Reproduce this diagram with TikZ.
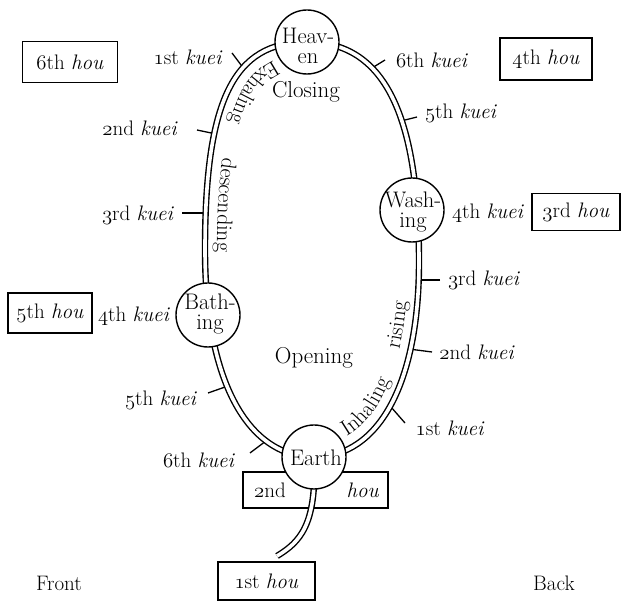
\documentclass[tikz,border=0pt]{standalone}
\usetikzlibrary{decorations.text}
\providecommand\legacyoldstylenums{\oldstylenums}
\newcommand\os[1]{\legacyoldstylenums{#1}}
\newcommand\pathfont{\fontsize{22}{24}\selectfont}
\begin{document}
\begin{tikzpicture}[x=1pt,y=1pt,
  lab/.style={font=\fontsize{21}{22}\selectfont, inner sep=0pt},
  big/.style={font=\fontsize{23}{24}\selectfont, inner sep=0pt},
  ctext/.style={font=\fontsize{22.5}{20}\selectfont, inner sep=0pt, align=center},
  houbox/.style={draw, line width=1.6pt, font=\fontsize{21}{22}\selectfont, inner sep=0pt},
  dbl/.style={double, double distance=3.6pt, line width=1.4pt},
  tickline/.style={line width=1.3pt},
  circ/.style={circle, draw, fill=white, line width=1.4pt, minimum size=64pt, inner sep=0pt}]
\useasboundingbox (0,0) rectangle (622,-601);

% box behind Earth
\node[houbox, minimum width=145pt, minimum height=36pt] (hou2) at (315.5,-490) {};

% tick marks
\coordinate (a1L) at (232,-53);  \coordinate (b1L) at (244,-69);
\coordinate (a2L) at (197,-130); \coordinate (b2L) at (216,-134);
\coordinate (a3L) at (182,-213); \coordinate (b3L) at (206,-213);
\coordinate (a5L) at (208,-393); \coordinate (b5L) at (228,-386);
\coordinate (a6L) at (250,-453); \coordinate (b6L) at (266,-441);
\coordinate (a6R) at (385,-60);  \coordinate (b6R) at (372,-68);
\coordinate (a5R) at (417,-117); \coordinate (b5R) at (401,-121);
\coordinate (a3R) at (440,-280); \coordinate (b3R) at (419,-280);
\coordinate (a2R) at (432,-352); \coordinate (b2R) at (409,-349);
\coordinate (a1R) at (405,-423); \coordinate (b1R) at (391,-407);
\foreach \k in {1L,2L,3L,5L,6L,6R,5R,3R,2R,1R}
  \draw[tickline] (a\k) -- (b\k);

% the loop and the tail
\coordinate (Ec) at (314,-457);
\coordinate (tailend) at (277,-556);
\draw[dbl] (Ec) .. controls (317,-525) and (300,-542) .. (tailend);
\draw[dbl] (307,-42) .. controls (383.2,-42) and (419,-112.4) .. (419,-262)
  .. controls (419,-383) and (379,-457) .. (314,-457)
  .. controls (246.4,-457) and (205,-378) .. (205,-250)
  .. controls (205,-100) and (233.6,-42) .. (307,-42) -- cycle;

% circles
\node[circ] (H) at (307,-42) {};
\node[circ] (W) at (412,-210) {};
\node[circ] (B) at (208,-315) {};
\node[circ] (E) at (Ec) {};
\node[ctext] (Ht) at (308,-46) {Heav-\\en};
\node[ctext] (Wt) at (413,-212) {Wash-\\ing};
\node[ctext] (Bt) at (210,-314) {Bath-\\ing};
\node[ctext] (Et) at (316,-458) {Earth};

% texts along the loop
\path[decorate, decoration={text along path, text align={left indent=34pt},
   text={|\pathfont|Exhaling}}]
  (307,-54) .. controls (243,-54) and (217,-109.6) .. (217,-250)
  .. controls (217,-370) and (254.5,-445) .. (314,-445);
\path[decorate, decoration={text along path, text align={left indent=148pt},
   text={|\pathfont|descending}}]
  (307,-54) .. controls (243,-54) and (217,-109.6) .. (217,-250)
  .. controls (217,-370) and (254.5,-445) .. (314,-445);
\path[decorate, decoration={text along path, text align={left indent=34pt},
   text={|\pathfont|Inhaling}}]
  (314,-445) .. controls (372.5,-445) and (408,-374.8) .. (408,-262)
  .. controls (408,-121.2) and (375,-54) .. (307,-54);
\path[decorate, decoration={text along path, text align={left indent=139pt},
   text={|\pathfont|rising}}]
  (314,-445) .. controls (372.5,-445) and (408,-374.8) .. (408,-262)
  .. controls (408,-121.2) and (375,-54) .. (307,-54);

\node[big] (closing) at (306,-92) {Closing};
\node[big] (opening) at (314,-358) {Opening};

% kuei labels
\node[lab] (k1L) at (188,-57)  {\os{1}st \textit{kuei}};
\node[lab] (k2L) at (140,-128) {\os{2}nd \textit{kuei}};
\node[lab] (k3L) at (138,-215) {\os{3}rd \textit{kuei}};
\node[lab] (k4L) at (134,-316) {\os{4}th \textit{kuei}};
\node[lab] (k5L) at (161,-400) {\os{5}th \textit{kuei}};
\node[lab] (k6L) at (199,-460) {\os{6}th \textit{kuei}};
\node[lab] (k6R) at (432,-60)  {\os{6}th \textit{kuei}};
\node[lab] (k5R) at (461,-113) {\os{5}th \textit{kuei}};
\node[lab] (k4R) at (488,-213) {\os{4}th \textit{kuei}};
\node[lab] (k3R) at (484,-280) {\os{3}rd \textit{kuei}};
\node[lab] (k2R) at (477,-352) {\os{2}nd \textit{kuei}};
\node[lab] (k1R) at (450,-428) {\os{1}st \textit{kuei}};

% hou boxes
\node[houbox, minimum width=95pt, minimum height=41pt] (hou6) at (70,-62) {\os{6}th \textit{hou}};
\node[houbox, minimum width=92pt, minimum height=42pt] (hou4) at (546,-59) {\os{4}th \textit{hou}};
\node[houbox, minimum width=88pt, minimum height=37pt] (hou3) at (576,-212) {\os{3}rd \textit{hou}};
\node[houbox, minimum width=84pt, minimum height=40pt] (hou5) at (50,-313) {\os{5}th \textit{hou}};
\node[houbox, minimum width=97pt, minimum height=38pt] (hou1) at (266.5,-581) {\os{1}st \textit{hou}};
\node[lab] (h2a) at (270,-490) {\os{2}nd};
\node[lab] (h2b) at (363,-490) {\textit{hou}};

\node[lab] (front) at (59,-583) {Front};
\node[lab] (back) at (554,-583) {Back};
\end{tikzpicture}
\end{document}
